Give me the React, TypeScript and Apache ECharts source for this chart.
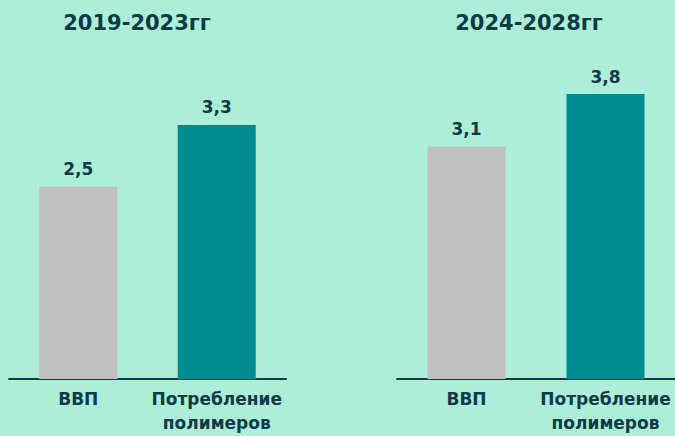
import React, { useEffect, useRef } from "react";
import * as echarts from "echarts";

const categories = ["ВВП", "Потребление\nполимеров"];
const periodTitles = ["2019-2023гг", "2024-2028гг"];
const valuesPeriod1 = [2.5, 3.3];
const valuesPeriod2 = [3.1, 3.8];

const BG = "#ADEED9";
const DARK = "#0C3A45";
const GRAY = "#C0C0C0";
const TEAL = "#008B8F";
const FONT = "'DejaVu Sans', Verdana, sans-serif";

export default function App() {
  const ref = useRef<HTMLDivElement>(null);
  useEffect(() => {
    document.body.style.margin = "0";
    document.body.style.background = BG;
    const chart = echarts.init(ref.current!, undefined, { renderer: "svg" });
    const fmt = (p: any) => String(p.value).replace(".", ",");
    const mkX = (i: number) => ({
      type: "category",
      gridIndex: i,
      data: categories,
      axisLine: { show: true, lineStyle: { color: DARK, width: 2 } },
      axisTick: { show: false },
      axisLabel: {
        color: DARK,
        fontFamily: FONT,
        fontWeight: "bold",
        fontSize: 17,
        lineHeight: 24,
        margin: 8,
        interval: 0,
      },
    });
    const mkY = (i: number) => ({
      type: "value",
      gridIndex: i,
      min: 0,
      max: 4,
      show: false,
      splitLine: { show: false },
    });
    const mkS = (i: number, vals: number[]) => ({
      type: "bar",
      xAxisIndex: i,
      yAxisIndex: i,
      barWidth: 78,
      data: vals.map((v, j) => ({ value: v, itemStyle: { color: j === 0 ? GRAY : TEAL } })),
      label: {
        show: true,
        position: "top",
        distance: 9,
        formatter: fmt,
        color: DARK,
        fontFamily: FONT,
        fontWeight: "bold",
        fontSize: 17,
      },
    });
    chart.setOption({
      animation: false,
      backgroundColor: BG,
      grid: [
        { left: 9, width: 277, top: 71, bottom: 57 },
        { left: 397, width: 278, top: 79, bottom: 57 },
      ],
      xAxis: [mkX(0), mkX(1)],
      yAxis: [mkY(0), mkY(1)],
      series: [mkS(0, valuesPeriod1), mkS(1, valuesPeriod2)],
      graphic: [
        {
          type: "text",
          x: 137,
          y: 23,
          style: {
            text: periodTitles[0],
            textAlign: "center",
            textVerticalAlign: "middle",
            fill: DARK,
            font: `bold 21px ${FONT}`,
          },
        },
        {
          type: "text",
          x: 529,
          y: 23,
          style: {
            text: periodTitles[1],
            textAlign: "center",
            textVerticalAlign: "middle",
            fill: DARK,
            font: `bold 21px ${FONT}`,
          },
        },
      ],
    });
    return () => chart.dispose();
  }, []);
  return (
    <div
      ref={ref}
      style={{ position: "absolute", left: 0, top: 0, width: 675, height: 436 }}
    />
  );
}
